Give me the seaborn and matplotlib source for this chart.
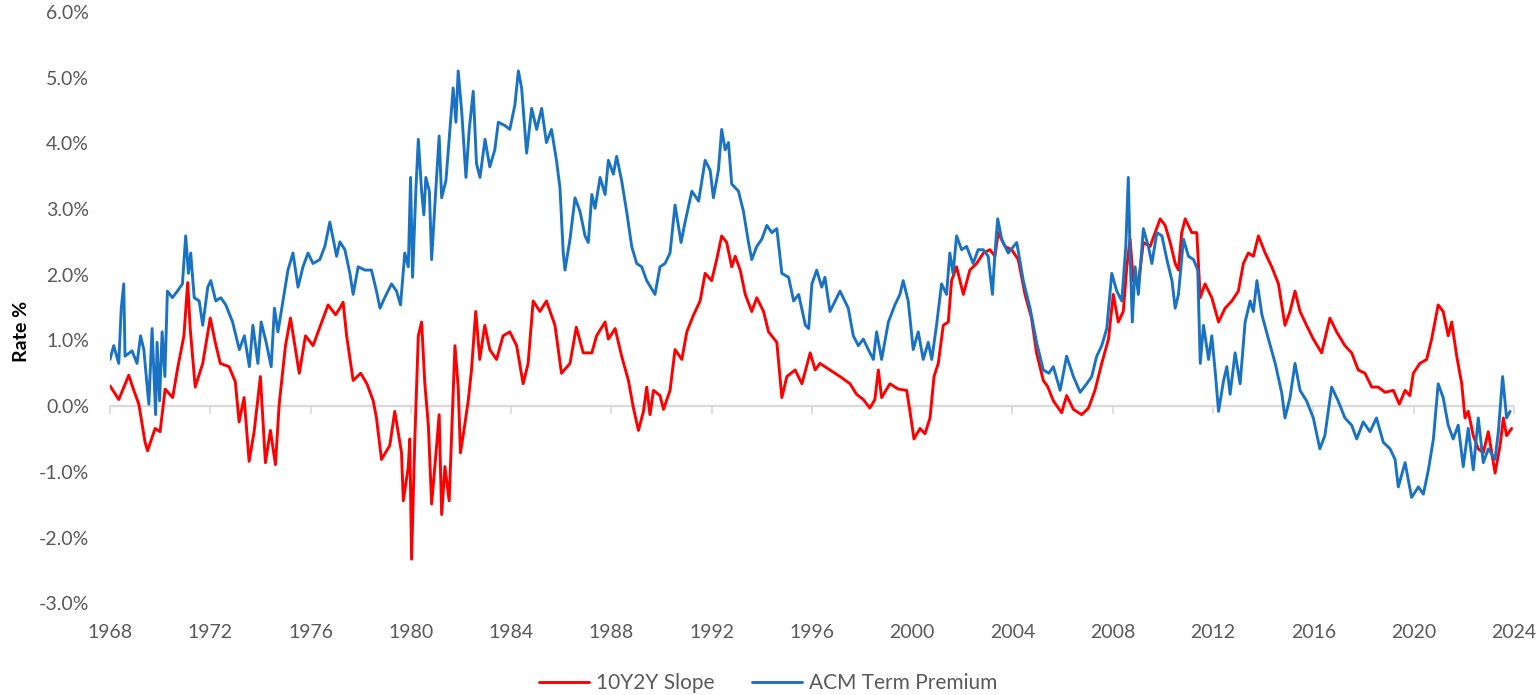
import pandas as pd
import seaborn as sns
import matplotlib.pyplot as plt

# 10Y2Y slope (decimal year, %)
slope_year = [1968.0, 1968.35, 1968.75, 1968.95, 1969.15, 1969.4, 1969.5, 1969.8, 1970.0, 1970.2,
              1970.5, 1970.7, 1970.95, 1971.1, 1971.2, 1971.4, 1971.7, 1972.0, 1972.2, 1972.4,
              1972.75, 1973.0, 1973.15, 1973.35, 1973.55, 1973.75, 1974.0, 1974.2, 1974.4, 1974.6,
              1974.75, 1975.0, 1975.2, 1975.55, 1975.8, 1976.1, 1976.35, 1976.7, 1977.0, 1977.17,
              1977.3, 1977.44, 1977.7, 1978.0, 1978.25, 1978.5, 1978.63, 1978.83, 1979.16, 1979.36,
              1979.63, 1979.7, 1979.9, 1979.96, 1980.03, 1980.16, 1980.3, 1980.43, 1980.56, 1980.7,
              1980.83, 1981.03, 1981.13, 1981.23, 1981.36, 1981.53, 1981.62, 1981.76, 1981.89, 1981.98,
              1982.15, 1982.29, 1982.42, 1982.59, 1982.75, 1982.95, 1983.15, 1983.42, 1983.68, 1983.95,
              1984.22, 1984.48, 1984.68, 1984.88, 1985.15, 1985.41, 1985.75, 1986.01, 1986.35, 1986.6,
              1986.88, 1987.22, 1987.41, 1987.75, 1987.88, 1988.15, 1988.41, 1988.68, 1988.88, 1989.08,
              1989.28, 1989.41, 1989.54, 1989.68, 1989.94, 1990.08, 1990.34, 1990.54, 1990.81, 1991.01,
              1991.28, 1991.54, 1991.74, 1992.0, 1992.2, 1992.4, 1992.6, 1992.8, 1992.94, 1993.14,
              1993.34, 1993.6, 1993.8, 1994.07, 1994.27, 1994.6, 1994.8, 1995.0, 1995.33, 1995.6,
              1995.93, 1996.13, 1996.32, 1996.72, 1997.12, 1997.52, 1997.78, 1998.05, 1998.31, 1998.51,
              1998.65, 1998.78, 1999.11, 1999.44, 1999.78, 1999.91, 2000.07, 2000.31, 2000.51, 2000.71,
              2000.87, 2001.04, 2001.24, 2001.44, 2001.57, 2001.77, 2002.04, 2002.3, 2002.57, 2002.84,
              2003.1, 2003.3, 2003.43, 2003.7, 2003.97, 2004.23, 2004.5, 2004.76, 2004.96, 2005.23,
              2005.4, 2005.63, 2005.96, 2006.16, 2006.43, 2006.76, 2007.03, 2007.29, 2007.56, 2007.83,
              2008.02, 2008.22, 2008.42, 2008.56, 2008.69, 2008.82, 2009.02, 2009.22, 2009.49, 2009.69,
              2009.89, 2010.09, 2010.29, 2010.49, 2010.62, 2010.75, 2010.89, 2011.15, 2011.35, 2011.49,
              2011.68, 2011.95, 2012.22, 2012.48, 2012.75, 2013.01, 2013.21, 2013.41, 2013.61, 2013.81,
              2014.08, 2014.34, 2014.61, 2014.87, 2015.07, 2015.27, 2015.47, 2015.73, 2016.0, 2016.33,
              2016.66, 2016.93, 2017.26, 2017.53, 2017.79, 2018.06, 2018.33, 2018.59, 2018.86, 2019.19,
              2019.43, 2019.66, 2019.85, 2019.99, 2020.25, 2020.52, 2020.72, 2020.98, 2021.18, 2021.38,
              2021.52, 2021.72, 2021.92, 2022.05, 2022.18, 2022.38, 2022.58, 2022.78, 2022.98, 2023.25,
              2023.45, 2023.58, 2023.71, 2023.91]
slope_rate = [0.31, 0.10, 0.47, 0.24, 0.03, -0.55, -0.68, -0.34, -0.39, 0.26,
              0.13, 0.58, 1.07, 1.88, 1.18, 0.29, 0.65, 1.34, 0.97, 0.65,
              0.60, 0.37, -0.24, 0.13, -0.84, -0.39, 0.45, -0.86, -0.37, -0.89,
              0.03, 0.92, 1.34, 0.50, 1.07, 0.92, 1.18, 1.54, 1.39, 1.49,
              1.58, 1.07, 0.39, 0.50, 0.34, 0.08, -0.18, -0.81, -0.60, -0.08,
              -0.71, -1.44, -0.92, -0.50, -2.33, -0.50, 1.07, 1.28, 0.34, -0.29,
              -1.49, -0.60, -0.13, -1.65, -0.92, -1.44, -0.50, 0.92, 0.29, -0.71,
              -0.29, 0.08, 0.55, 1.44, 0.71, 1.23, 0.86, 0.71, 1.07, 1.13,
              0.92, 0.34, 0.65, 1.60, 1.44, 1.60, 1.23, 0.50, 0.65, 1.20,
              0.81, 0.81, 1.07, 1.28, 1.02, 1.18, 0.76, 0.39, -0.03, -0.37,
              -0.08, 0.29, -0.13, 0.24, 0.16, -0.05, 0.24, 0.86, 0.71, 1.13,
              1.39, 1.60, 2.02, 1.91, 2.23, 2.59, 2.49, 2.12, 2.28, 2.07,
              1.70, 1.44, 1.65, 1.44, 1.13, 0.97, 0.13, 0.45, 0.55, 0.34,
              0.81, 0.55, 0.65, 0.55, 0.45, 0.34, 0.18, 0.10, -0.03, 0.10,
              0.55, 0.13, 0.34, 0.26, 0.24, -0.08, -0.50, -0.34, -0.42, -0.18,
              0.45, 0.65, 1.23, 1.28, 1.91, 2.12, 1.70, 2.07, 2.17, 2.33,
              2.38, 2.28, 2.64, 2.43, 2.38, 2.23, 1.70, 1.34, 0.81, 0.39,
              0.30, 0.08, -0.10, 0.16, -0.05, -0.13, -0.03, 0.24, 0.65, 1.02,
              1.70, 1.28, 1.44, 2.12, 2.54, 1.91, 1.86, 2.49, 2.43, 2.64,
              2.85, 2.75, 2.49, 2.17, 2.07, 2.64, 2.85, 2.64, 2.64, 1.65,
              1.86, 1.65, 1.28, 1.49, 1.60, 1.75, 2.17, 2.33, 2.28, 2.59,
              2.33, 2.12, 1.86, 1.23, 1.44, 1.75, 1.44, 1.23, 1.02, 0.81,
              1.34, 1.13, 0.92, 0.81, 0.55, 0.50, 0.29, 0.29, 0.21, 0.24,
              0.03, 0.24, 0.16, 0.50, 0.65, 0.71, 1.02, 1.54, 1.44, 1.07,
              1.28, 0.76, 0.34, -0.18, -0.08, -0.45, -0.65, -0.71, -0.39, -1.02,
              -0.60, -0.18, -0.45, -0.34]

# ACM term premium (decimal year, %)
acm_year = [1968.0, 1968.15, 1968.35, 1968.45, 1968.55, 1968.6, 1968.88, 1969.08, 1969.22, 1969.35,
            1969.55, 1969.68, 1969.82, 1969.88, 1969.98, 1970.08, 1970.19, 1970.29, 1970.49, 1970.69,
            1970.89, 1971.02, 1971.13, 1971.22, 1971.36, 1971.56, 1971.7, 1971.9, 1972.02, 1972.22,
            1972.42, 1972.62, 1972.89, 1973.16, 1973.36, 1973.56, 1973.7, 1973.9, 1974.03, 1974.23,
            1974.43, 1974.56, 1974.7, 1974.9, 1975.1, 1975.3, 1975.5, 1975.7, 1975.9, 1976.1,
            1976.37, 1976.57, 1976.77, 1977.04, 1977.17, 1977.37, 1977.57, 1977.7, 1977.9, 1978.17,
            1978.43, 1978.63, 1978.77, 1978.96, 1979.23, 1979.43, 1979.59, 1979.76, 1979.9, 1979.99,
            1980.07, 1980.2, 1980.3, 1980.43, 1980.52, 1980.6, 1980.74, 1980.83, 1980.96, 1981.13,
            1981.23, 1981.4, 1981.56, 1981.69, 1981.8, 1981.89, 1982.03, 1982.2, 1982.33, 1982.49,
            1982.62, 1982.76, 1982.96, 1983.15, 1983.35, 1983.49, 1983.75, 1983.95, 1984.15, 1984.29,
            1984.42, 1984.62, 1984.82, 1985.02, 1985.22, 1985.41, 1985.61, 1985.81, 1985.95, 1986.08,
            1986.15, 1986.35, 1986.55, 1986.75, 1986.95, 1987.08, 1987.22, 1987.35, 1987.55, 1987.75,
            1987.88, 1988.08, 1988.21, 1988.41, 1988.61, 1988.81, 1989.01, 1989.21, 1989.41, 1989.74,
            1989.94, 1990.14, 1990.34, 1990.54, 1990.78, 1990.94, 1991.21, 1991.48, 1991.74, 1991.94,
            1992.07, 1992.27, 1992.4, 1992.54, 1992.67, 1992.8, 1993.07, 1993.27, 1993.47, 1993.6,
            1993.8, 1994.0, 1994.2, 1994.4, 1994.6, 1994.8, 1995.07, 1995.27, 1995.47, 1995.74,
            1995.87, 1996.0, 1996.19, 1996.39, 1996.52, 1996.72, 1997.12, 1997.45, 1997.65, 1997.85,
            1998.05, 1998.25, 1998.45, 1998.58, 1998.78, 1999.05, 1999.31, 1999.51, 1999.64, 1999.84,
            2000.04, 2000.24, 2000.44, 2000.64, 2000.78, 2000.97, 2001.17, 2001.37, 2001.5, 2001.63,
            2001.77, 2001.97, 2002.17, 2002.43, 2002.63, 2002.83, 2003.03, 2003.2, 2003.3, 2003.41,
            2003.57, 2003.83, 2004.17, 2004.43, 2004.7, 2004.96, 2005.23, 2005.45, 2005.63, 2005.9,
            2006.16, 2006.43, 2006.7, 2006.96, 2007.16, 2007.36, 2007.56, 2007.76, 2007.96, 2008.16,
            2008.36, 2008.52, 2008.62, 2008.69, 2008.78, 2008.89, 2009.02, 2009.22, 2009.42, 2009.56,
            2009.76, 2009.96, 2010.16, 2010.36, 2010.49, 2010.62, 2010.82, 2011.02, 2011.22, 2011.39,
            2011.49, 2011.62, 2011.82, 2011.95, 2012.08, 2012.22, 2012.42, 2012.55, 2012.68, 2012.88,
            2013.08, 2013.28, 2013.48, 2013.61, 2013.75, 2013.95, 2014.21, 2014.48, 2014.74, 2014.87,
            2015.07, 2015.27, 2015.47, 2015.73, 2016.0, 2016.26, 2016.46, 2016.73, 2016.99, 2017.26,
            2017.53, 2017.73, 2017.99, 2018.26, 2018.52, 2018.79, 2019.06, 2019.26, 2019.39, 2019.66,
            2019.92, 2020.19, 2020.39, 2020.59, 2020.79, 2020.98, 2021.18, 2021.38, 2021.58, 2021.78,
            2021.98, 2022.18, 2022.38, 2022.58, 2022.78, 2022.98, 2023.25, 2023.38, 2023.55, 2023.71,
            2023.85]
acm_rate = [0.71, 0.92, 0.65, 1.49, 1.86, 0.76, 0.84, 0.65, 1.07, 0.86,
            0.03, 1.18, -0.13, 0.97, 0.08, 1.13, 0.45, 1.75, 1.65, 1.75,
            1.86, 2.59, 2.02, 2.33, 1.65, 1.60, 1.23, 1.81, 1.91, 1.60,
            1.65, 1.54, 1.28, 0.86, 1.07, 0.60, 1.23, 0.65, 1.28, 0.97,
            0.60, 1.49, 1.13, 1.60, 2.07, 2.33, 1.81, 2.12, 2.33, 2.17,
            2.23, 2.43, 2.80, 2.28, 2.50, 2.38, 2.02, 1.70, 2.12, 2.07,
            2.07, 1.75, 1.49, 1.65, 1.86, 1.75, 1.54, 2.33, 2.12, 3.48,
            1.96, 3.27, 4.06, 3.27, 2.91, 3.48, 3.27, 2.23, 3.06, 4.11,
            3.17, 3.43, 4.21, 4.84, 4.32, 5.10, 4.48, 3.48, 4.21, 4.79,
            3.69, 3.48, 4.06, 3.64, 3.90, 4.32, 4.27, 4.21, 4.58, 5.10,
            4.84, 3.85, 4.53, 4.21, 4.53, 4.01, 4.21, 3.74, 3.32, 2.33,
            2.07, 2.54, 3.17, 2.96, 2.59, 2.49, 3.22, 3.01, 3.48, 3.22,
            3.74, 3.53, 3.80, 3.43, 2.96, 2.43, 2.17, 2.12, 1.91, 1.70,
            2.12, 2.17, 2.33, 3.06, 2.49, 2.80, 3.27, 3.12, 3.74, 3.59,
            3.17, 3.59, 4.21, 3.90, 4.01, 3.38, 3.27, 2.96, 2.49, 2.23,
            2.43, 2.54, 2.75, 2.64, 2.70, 2.02, 1.96, 1.60, 1.70, 1.23,
            1.18, 1.86, 2.07, 1.81, 1.96, 1.44, 1.75, 1.49, 1.07, 0.92,
            1.02, 0.86, 0.71, 1.13, 0.71, 1.28, 1.54, 1.70, 1.91, 1.60,
            0.86, 1.13, 0.71, 0.97, 0.71, 1.23, 1.86, 1.70, 2.33, 2.02,
            2.59, 2.38, 2.43, 2.17, 2.38, 2.38, 2.28, 1.70, 2.33, 2.85,
            2.54, 2.33, 2.49, 1.91, 1.49, 0.97, 0.55, 0.50, 0.60, 0.24,
            0.76, 0.45, 0.21, 0.34, 0.45, 0.76, 0.92, 1.18, 2.02, 1.75,
            1.60, 2.43, 3.48, 2.33, 1.28, 2.12, 1.70, 2.70, 2.43, 2.17,
            2.64, 2.59, 2.23, 1.91, 1.49, 1.70, 2.54, 2.28, 2.23, 2.07,
            0.65, 1.23, 0.71, 1.07, 0.55, -0.08, 0.39, 0.60, 0.18, 0.81,
            0.34, 1.28, 1.60, 1.44, 1.91, 1.39, 1.02, 0.65, 0.20, -0.18,
            0.13, 0.65, 0.24, 0.08, -0.18, -0.65, -0.45, 0.29, 0.08, -0.18,
            -0.29, -0.50, -0.24, -0.39, -0.18, -0.55, -0.65, -0.81, -1.23, -0.86,
            -1.39, -1.23, -1.34, -0.97, -0.50, 0.34, 0.13, -0.29, -0.50, -0.29,
            -0.92, -0.34, -0.97, -0.18, -0.86, -0.65, -0.81, -0.39, 0.45, -0.18,
            -0.08]

year_ticks = [1968, 1972, 1976, 1980, 1984, 1988, 1992, 1996, 2000, 2004, 2008, 2012, 2016, 2020, 2024]
rate_ticks = [-3, -2, -1, 0, 1, 2, 3, 4, 5, 6]

slope = pd.DataFrame({"year": slope_year, "rate": slope_rate})
acm = pd.DataFrame({"year": acm_year, "rate": acm_rate})

sns.set_theme(style="white")
plt.rcParams["font.family"] = ["Lato", "DejaVu Sans"]

fig = plt.figure(figsize=(15.36, 6.95), dpi=100)
ax = fig.add_axes([0.0716, 0.132, 0.914, 0.851])

ax.axhline(0, color="#d9d9d9", lw=1.6, zorder=1)
sns.lineplot(data=slope, x="year", y="rate", color="#ff0000", lw=2.1, label="10Y2Y Slope", ax=ax, zorder=3)
sns.lineplot(data=acm, x="year", y="rate", color="#1a73c2", lw=2.1, label="ACM Term Premium", ax=ax, zorder=4)

ax.set_xlim(1968, 2024)
ax.set_ylim(-3, 6)
ax.set_xticks(year_ticks)
ax.set_xticklabels([str(y) for y in year_ticks])
ax.set_yticks(rate_ticks)
ax.set_yticklabels([f"{r:.1f}%" for r in rate_ticks])
ax.tick_params(axis="both", length=0, labelsize=14, labelcolor="#595959")
ax.tick_params(axis="x", pad=15)
ax.tick_params(axis="y", pad=15)
for s in ax.spines.values():
    s.set_visible(False)

# little tick marks hanging off the zero line
zero_axis = ax.secondary_xaxis(1 / 3)
zero_axis.set_xticks(year_ticks)
zero_axis.set_xticklabels([])
zero_axis.tick_params(direction="out", length=6, width=1.2, color="#d9d9d9")
zero_axis.spines["bottom"].set_visible(False)

ax.set_xlabel("")
ax.set_ylabel("Rate %", fontsize=14, fontweight="bold", color="black")
ax.yaxis.set_label_coords(-0.057, 0.46)

handles, labels = ax.get_legend_handles_labels()
ax.get_legend().remove()
fig.legend(handles, labels, loc="center", bbox_to_anchor=(0.5, 0.017), ncol=2, frameon=False,
           fontsize=15, labelcolor="#595959", handlelength=2.4, handletextpad=0.35, columnspacing=1.8)

plt.savefig("out.png", dpi=100)
